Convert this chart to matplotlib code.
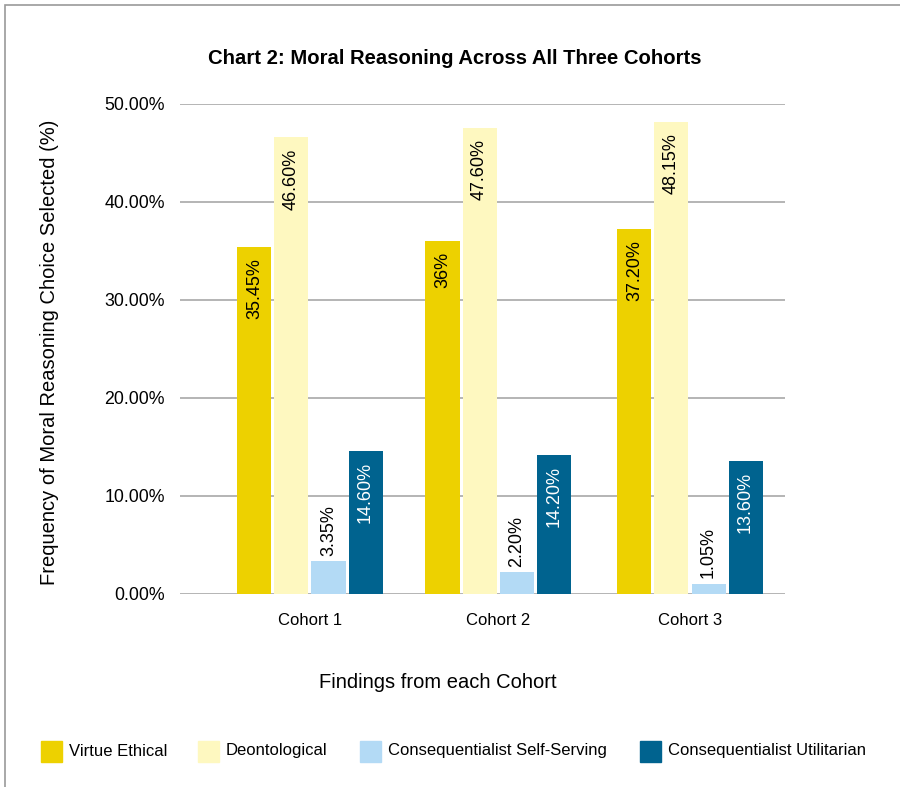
import matplotlib
matplotlib.use("Agg")
import matplotlib.pyplot as plt
from matplotlib.patches import Rectangle
import numpy as np

plt.rcParams['font.family'] = ['Liberation Sans', 'DejaVu Sans']

cohorts = ["Cohort 1", "Cohort 2", "Cohort 3"]
series_names = ["Virtue Ethical", "Deontological",
                "Consequentialist Self-Serving", "Consequentialist Utilitarian"]
virtue_ethical = [35.45, 36.0, 37.20]
deontological = [46.60, 47.60, 48.15]
self_serving = [3.35, 2.20, 1.05]
utilitarian = [14.60, 14.20, 13.60]
value_labels = [
    ["35.45%", "36%", "37.20%"],
    ["46.60%", "47.60%", "48.15%"],
    ["3.35%", "2.20%", "1.05%"],
    ["14.60%", "14.20%", "13.60%"],
]
y_ticks = [0, 10, 20, 30, 40, 50]
y_tick_labels = ["0.00%", "10.00%", "20.00%", "30.00%", "40.00%", "50.00%"]

colors = ["#EDD100", "#FEF8C0", "#B3DAF5", "#00638F"]
text_colors = ["black", "black", "black", "white"]
inside = [True, True, False, True]

W, H = 900, 787
fig = plt.figure(figsize=(W / 100, H / 100), dpi=100)

# outer frame lines (top and left edge)
fig.add_artist(Rectangle((5 / W, -0.1), 1.2, (H - 5) / H + 0.1, transform=fig.transFigure,
                         fill=False, edgecolor="#9A9A9A", linewidth=1.2))

ax_left, ax_right = 180, 785
ax_top, ax_bottom = 104, 594
ax = fig.add_axes([ax_left / W, (H - ax_bottom) / H,
                   (ax_right - ax_left) / W, (ax_bottom - ax_top) / H])

x = np.array([0.0, 0.99, 2.0])
bar_w = 0.179
step = 0.195
all_series = [virtue_ethical, deontological, self_serving, utilitarian]
for i, (vals, col) in enumerate(zip(all_series, colors)):
    xs = x + (i - 1.5) * step
    ax.bar(xs, vals, width=bar_w, color=col, zorder=3, label=series_names[i])
    for xi, v, lab in zip(xs, vals, value_labels[i]):
        if inside[i]:
            ax.annotate(lab, (xi, v), xytext=(0, -8), textcoords="offset points",
                        rotation=90, ha="center", va="top", fontsize=13,
                        color=text_colors[i], zorder=4)
        else:
            ax.annotate(lab, (xi, v), xytext=(0, 4), textcoords="offset points",
                        rotation=90, ha="center", va="bottom", fontsize=13,
                        color=text_colors[i], zorder=4)

ax.set_xlim(-0.684, 2.5)
ax.set_ylim(0, 50)
ax.set_yticks(y_ticks)
ax.set_yticklabels(y_tick_labels, fontsize=12.8)
ax.set_xticks(x)
ax.set_xticklabels(cohorts, fontsize=12)
ax.tick_params(axis="both", length=0)
ax.tick_params(axis="y", pad=11)
ax.tick_params(axis="x", pad=14)
for s in ax.spines.values():
    s.set_visible(False)
ax.yaxis.grid(True, color="#A8A8A8", linewidth=1.2, zorder=0)
ax.set_axisbelow(True)

fig.text(455 / W, 1 - 58 / H, "Chart 2: Moral Reasoning Across All Three Cohorts",
         ha="center", va="center", fontsize=14.6, fontweight="bold")
fig.text(50 / W, 1 - 352 / H, "Frequency of Moral Reasoning Choice Selected (%)",
         ha="center", va="center", rotation=90, fontsize=14.5)
fig.text(438 / W, 1 - 682 / H, "Findings from each Cohort",
         ha="center", va="center", fontsize=14.5)

# legend row
sq_x = [41, 198, 360, 640]
for xpos, col, name in zip(sq_x, colors, series_names):
    fig.add_artist(Rectangle((xpos / W, 1 - 762 / H), 21 / W, 21 / H,
                             transform=fig.transFigure, color=col))
    fig.text((xpos + 28) / W, 1 - 751 / H, name, ha="left", va="center", fontsize=12)

fig.savefig("out.png", dpi=100)
